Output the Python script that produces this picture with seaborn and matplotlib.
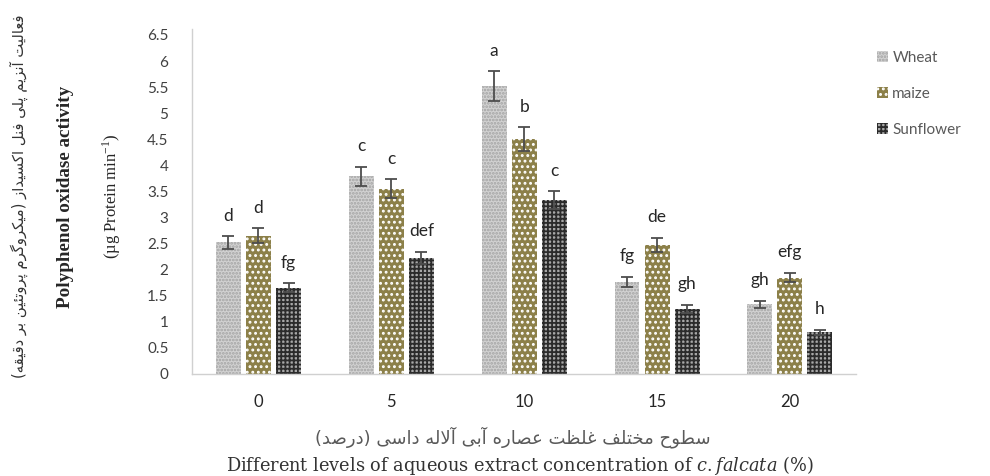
import matplotlib
matplotlib.use("Agg")
import matplotlib.pyplot as plt
import seaborn as sns
import pandas as pd
from matplotlib.patches import Patch

# ---- data -------------------------------------------------------------
concentrations = ["0", "5", "10", "15", "20"]
crops = ["Wheat", "maize", "Sunflower"]
wheat = [2.52, 3.79, 5.52, 1.76, 1.33]
maize = [2.65, 3.55, 4.50, 2.47, 1.84]
sunflower = [1.65, 2.22, 3.33, 1.24, 0.79]
wheat_se = [0.12, 0.18, 0.28, 0.10, 0.07]
maize_se = [0.14, 0.18, 0.23, 0.14, 0.09]
sunflower_se = [0.08, 0.12, 0.17, 0.08, 0.05]
wheat_letters = ["d", "c", "a", "fg", "gh"]
maize_letters = ["d", "c", "b", "de", "efg"]
sunflower_letters = ["fg", "def", "c", "gh", "h"]
y_ticks = [0, 0.5, 1, 1.5, 2, 2.5, 3, 3.5, 4, 4.5, 5, 5.5, 6, 6.5]

ylabel_fa = "فعالیت آنزیم پلی فنل اکسیداز (میکروگرم پروتئین بر دقیقه)"
xlabel_fa = "سطوح مختلف غلظت عصاره آبی آلاله داسی (درصد)"


# ---- minimal Persian shaping (presentation forms, visual order) -------
# letter -> (base code point, joins on both sides)
_PERSIAN = {
    "آ": (0xFE81, False), "ا": (0xFE8D, False), "ب": (0xFE8F, True),
    "پ": (0xFB56, True), "ت": (0xFE95, True), "ح": (0xFEA1, True),
    "خ": (0xFEA5, True), "د": (0xFEA9, False), "ر": (0xFEAD, False),
    "ز": (0xFEAF, False), "س": (0xFEB1, True), "ص": (0xFEB9, True),
    "ط": (0xFEC1, True), "ظ": (0xFEC5, True), "ع": (0xFEC9, True),
    "غ": (0xFECD, True), "ف": (0xFED1, True), "ق": (0xFED5, True),
    "ک": (0xFB8E, True), "گ": (0xFB92, True), "ل": (0xFEDD, True),
    "م": (0xFEE1, True), "ن": (0xFEE5, True), "ه": (0xFEE9, True),
    "و": (0xFEED, False), "ی": (0xFBFC, True), "ئ": (0xFE89, True),
}
_LAM_ALEF = {"ا": (0xFEFB, 0xFEFC), "آ": (0xFEF5, 0xFEF6)}
_MIRROR = {"(": ")", ")": "("}


def shape_persian(text):
    glyphs = []
    i = 0
    n = len(text)
    while i < n:
        ch = text[i]
        if ch not in _PERSIAN:
            glyphs.append(_MIRROR.get(ch, ch))
            i += 1
            continue
        prev = text[i - 1] if i > 0 else ""
        joins_prev = prev in _PERSIAN and _PERSIAN[prev][1]
        if ch == "ل" and i + 1 < n and text[i + 1] in _LAM_ALEF:
            iso, fin = _LAM_ALEF[text[i + 1]]
            glyphs.append(chr(fin if joins_prev else iso))
            i += 2
            continue
        base, dual = _PERSIAN[ch]
        nxt = text[i + 1] if i + 1 < n else ""
        joins_next = dual and nxt in _PERSIAN
        if joins_prev and joins_next:
            cp = base + 3
        elif joins_next:
            cp = base + 2
        elif joins_prev:
            cp = base + 1
        else:
            cp = base
        glyphs.append(chr(cp))
        i += 1
    return "".join(reversed(glyphs))


# ---- styling ----------------------------------------------------------
sns.set_theme(style="white")
plt.rcParams["font.family"] = ["Lato", "DejaVu Sans"]
plt.rcParams["mathtext.fontset"] = "custom"
plt.rcParams["mathtext.rm"] = "DejaVu Serif"
plt.rcParams["mathtext.it"] = "DejaVu Serif:italic"
plt.rcParams["hatch.linewidth"] = 1.3

face = {"Wheat": "#d2d2d2", "maize": "#8c8049", "Sunflower": "#a8a8a8"}
hatch_col = {"Wheat": "#a3a3a3", "maize": "#ffffff", "Sunflower": "#2b2b2b"}
hatches = {"Wheat": ".....", "maize": "...", "Sunflower": "++++"}

df = pd.DataFrame({
    "conc": concentrations * 3,
    "crop": [c for c in crops for _ in concentrations],
    "value": wheat + maize + sunflower,
})
errors = {"Wheat": wheat_se, "maize": maize_se, "Sunflower": sunflower_se}
letters = {"Wheat": wheat_letters, "maize": maize_letters,
           "Sunflower": sunflower_letters}

fig = plt.figure(figsize=(9.9, 4.76), dpi=100)
ax = fig.add_axes([0.194, 0.2153, 0.671, 0.7112])

sns.barplot(data=df, x="conc", y="value", hue="crop", hue_order=crops,
            order=concentrations, palette=face, errorbar=None,
            width=0.678, gap=0.17, linewidth=0, legend=False, ax=ax)

for container, crop in zip(ax.containers, crops):
    xs, ys = [], []
    for bar in container:
        bar.set_facecolor(face[crop])
        bar.set_edgecolor(hatch_col[crop])
        bar.set_hatch(hatches[crop])
        bar.set_linewidth(0)
        xs.append(bar.get_x() + bar.get_width() / 2)
        ys.append(bar.get_height())
    ax.errorbar(xs, ys, yerr=errors[crop], fmt="none", ecolor="#4d4d4d",
                elinewidth=1.3, capsize=4.5, capthick=1.3, zorder=5)
    for x, y, e, lab in zip(xs, ys, errors[crop], letters[crop]):
        ax.text(x, y + e + 0.24, lab, ha="center", va="bottom",
                fontsize=12.5, color="#262626")

ax.set_ylim(0, 6.5)
ax.set_xlim(-0.5, len(concentrations) - 0.5)
ax.set_yticks(y_ticks)
ax.set_yticklabels([f"{t:g}" for t in y_ticks])
ax.set_xticks(range(len(concentrations)))
ax.set_xticklabels(concentrations)
ax.set_xticks([i - 0.5 for i in range(len(concentrations) + 1)], minor=True)
ax.tick_params(axis="y", length=0, labelsize=11, labelcolor="#404040", pad=17)
ax.tick_params(axis="x", which="major", length=0, labelsize=12,
               labelcolor="#262626", pad=15)
ax.tick_params(axis="x", which="minor", length=5, width=1, color="#d0d0d0",
               direction="out")
ax.set_xlabel("")
ax.set_ylabel("")
for side in ("top", "right"):
    ax.spines[side].set_visible(False)
for side in ("left", "bottom"):
    ax.spines[side].set_color("#d0d0d0")
    ax.spines[side].set_linewidth(1.0)
ax.spines["left"].set_bounds(0, 6.62)

# legend on the right
handles = [Patch(facecolor=face[c], edgecolor=hatch_col[c], hatch=hatches[c],
                 linewidth=0, label=c) for c in crops]
fig.legend(handles=handles, loc="upper left", bbox_to_anchor=(0.872, 0.922),
           frameon=False, fontsize=11, handlelength=0.7, handleheight=0.7,
           handletextpad=0.3, labelspacing=1.45, labelcolor="#595959")

# axis titles (Persian + English)
serif = ["Liberation Serif", "DejaVu Serif"]
fig.text(0.019, 0.587, shape_persian(ylabel_fa), rotation=90, ha="center",
         va="center", fontsize=10.6, color="#333333", family=["DejaVu Sans"])
fig.text(0.066, 0.587, "Polyphenol oxidase activity", rotation=90,
         ha="center", va="center", fontsize=13.8, fontweight="bold",
         color="#262626", family=serif)
fig.text(0.113, 0.587, r"(µg Protein min$^{\mathregular{-1}}$)", rotation=90,
         ha="center", va="center", fontsize=12, color="#262626", family=serif)

fig.text(0.518, 0.082, shape_persian(xlabel_fa), ha="center", va="center",
         fontsize=13, color="#5a5a5a", family=["DejaVu Sans"])
fig.text(0.525, 0.023,
         r"Different levels of aqueous extract concentration of "
         r"$\mathit{c.falcata}$ (%)",
         ha="center", va="center", fontsize=12.8, color="#333333",
         family=["DejaVu Serif"])

fig.savefig("out.png", dpi=100)
